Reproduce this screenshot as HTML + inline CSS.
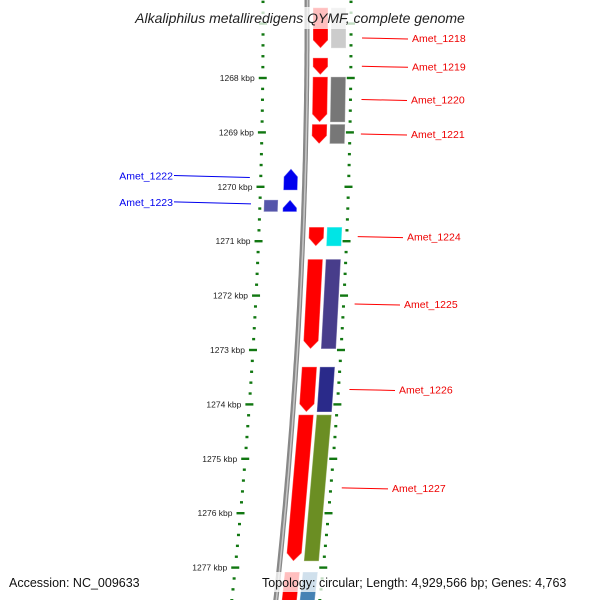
<!DOCTYPE html>
<html><head><meta charset="utf-8"><style>
body{margin:0;background:#fff}
svg{display:block;font-family:"Liberation Sans","DejaVu Sans",sans-serif}
</style></head><body>
<svg id="chart" width="600" height="600" viewBox="0 0 600 600" xmlns="http://www.w3.org/2000/svg">
<defs>
<linearGradient id="bb" x1="0" x2="1"><stop offset="0" stop-color="#555"/><stop offset="0.5" stop-color="#bbb"/><stop offset="1" stop-color="#666"/></linearGradient>
</defs>
<g id="plot"></g>
<rect x="112" y="7" width="378" height="22" fill="#fff" fill-opacity="0.75"/>
<text x="300" y="23" text-anchor="middle" font-size="14" font-style="italic" fill="#222">Alkaliphilus metalliredigens QYMF, complete genome</text>
<rect x="258" y="572" width="336" height="20" fill="#fff" fill-opacity="0.75"/>
<text x="9" y="587" font-size="12.5" fill="#111">Accession: NC_009633</text>
<text x="262" y="587" font-size="12.5" fill="#111">Topology: circular; Length: 4,929,566 bp; Genes: 4,763</text>
</svg>
<script>
const tickKbp=[1268,1269,1270,1271,1272,1273,1274,1275,1276,1277];
const geneNames=["Amet_1218","Amet_1219","Amet_1220","Amet_1221","Amet_1222","Amet_1223","Amet_1224","Amet_1225","Amet_1226","Amet_1227","Amet_next"];
const geneStart=[1266.71,1267.63,1267.98,1268.85,1269.67,1270.24,1270.74,1271.33,1273.31,1274.19,1277.08];
const geneEnd=[1267.45,1267.94,1268.81,1269.21,1270.06,1270.46,1271.09,1272.98,1274.14,1276.88,1277.80];
const geneStrand=[1,1,1,1,-1,-1,1,1,1,1,1];
const cogColor=["#cccccc",null,"#777777","#777777",null,"#5555aa","#00e5e5","#483d8b","#2a2a8a","#6b8e23","#4682b4"];
const labelShown=[1,1,1,1,1,1,1,1,1,1,0];

const svg=document.getElementById('plot');
const NS="http://www.w3.org/2000/svg";
const Y=k=>78+(k-1268)*54.4;
const bx=y=>307+0.004*y-9.32e-5*y*y;
function mk(t,a){const e=document.createElementNS(NS,t);for(const k in a)e.setAttribute(k,a[k]);svg.appendChild(e);return e;}
// backbone
let d="";for(let y=-5;y<=605;y+=5){d+=(y<0?"M":"L")+bx(y).toFixed(1)+" "+y;}
let bb=mk('path',{d:d,stroke:'#888',"stroke-width":5,fill:'none'});


mk('path',{d:d,stroke:'#c8c8c8',"stroke-width":1.5,fill:'none',transform:'translate(0.5,0)'});
// rulers
for(const side of [-44,44]){
  for(let k=1266.6;k<=1277.9;k+=0.2){
    const kk=Math.round(k*10)/10;const y=Y(kk);if(y<-3||y>603)continue;
    const major=Math.abs(kk-Math.round(kk))<0.01;
    const x=bx(y)+side;
    const t=mk('rect',{x:major?x-4:x-1.5,y:y-1.2,width:major?8:3,height:2.4,fill:'#117711'});
    
    
  }
}
tickKbp.forEach(k=>{const y=Y(k);const t=mk('text',{x:bx(y)-52,y:y+3,"text-anchor":"end","font-size":"8.5",fill:'#222'});t.textContent=k+" kbp";

});
function band(y1,y2,o1,o2,fill,arrow){
  // arrow: 1 tip at y2, -1 tip at y1, 0 none
  const h=8;let pts=[];
  if(arrow===1){const ya=Math.max(y1,y2-h);const m=(o1+o2)/2;
    pts=[[o1,y1],[o2,y1],[o2,ya],[m,y2],[o1,ya]];}
  else if(arrow===-1){const ya=Math.min(y2,y1+h);const m=(o1+o2)/2;
    pts=[[m,y1],[o2,ya],[o2,y2],[o1,y2],[o1,ya]];}
  else pts=[[o1,y1],[o2,y1],[o2,y2],[o1,y2]];
  return mk('polygon',{points:pts.map(p=>(bx(p[1])+p[0]).toFixed(1)+","+p[1].toFixed(1)).join(" "),fill:fill,stroke:'rgba(255,255,255,0.35)',"stroke-width":1});
}
const labelX=[412,412,411,411,200,200,407,404,399,392];
geneNames.forEach((n,i)=>{
  const y1=Y(geneStart[i]),y2=Y(geneEnd[i]);
  let g;
  if(geneStrand[i]===1){g=band(y1,y2,6,21,'#ff0000',1);}
  else{g=band(y1,y2,-21,-7,'#0000ee',-1);}
  
  
  if(cogColor[i]){
    const c=geneStrand[i]===1?band(y1,y2,24,39,cogColor[i],0):band(y1,y2,-40,-26,cogColor[i],0);
    
    
  }
  if(i===10){g.setAttribute('opacity','1');}
  if(labelShown[i]){
    const ym=(y1+y2)/2;
    if(geneStrand[i]===1){
      const ly=(i===0)?38:ym;
      const l=mk('line',{x1:bx(ly)+55,y1:ly,x2:labelX[i]-4,y2:ly+1,stroke:'#ff0000',"stroke-width":1});
      
      
      const t=mk('text',{x:labelX[i],y:ly+4,"font-size":"10.5",fill:'#ee0000'});t.textContent=n;
      
      
    }else{
      const ly=ym-4;
      const l=mk('line',{x1:174,y1:ly,x2:bx(ly)-(i===4?55:53),y2:ly+2,stroke:'#0000ee',"stroke-width":1});
      
      
      const t=mk('text',{x:173,y:ly+4,"text-anchor":"end","font-size":"10.5",fill:'#0000ee'});t.textContent=n;
      
      
    }
  }
});
</script>
</body></html>
